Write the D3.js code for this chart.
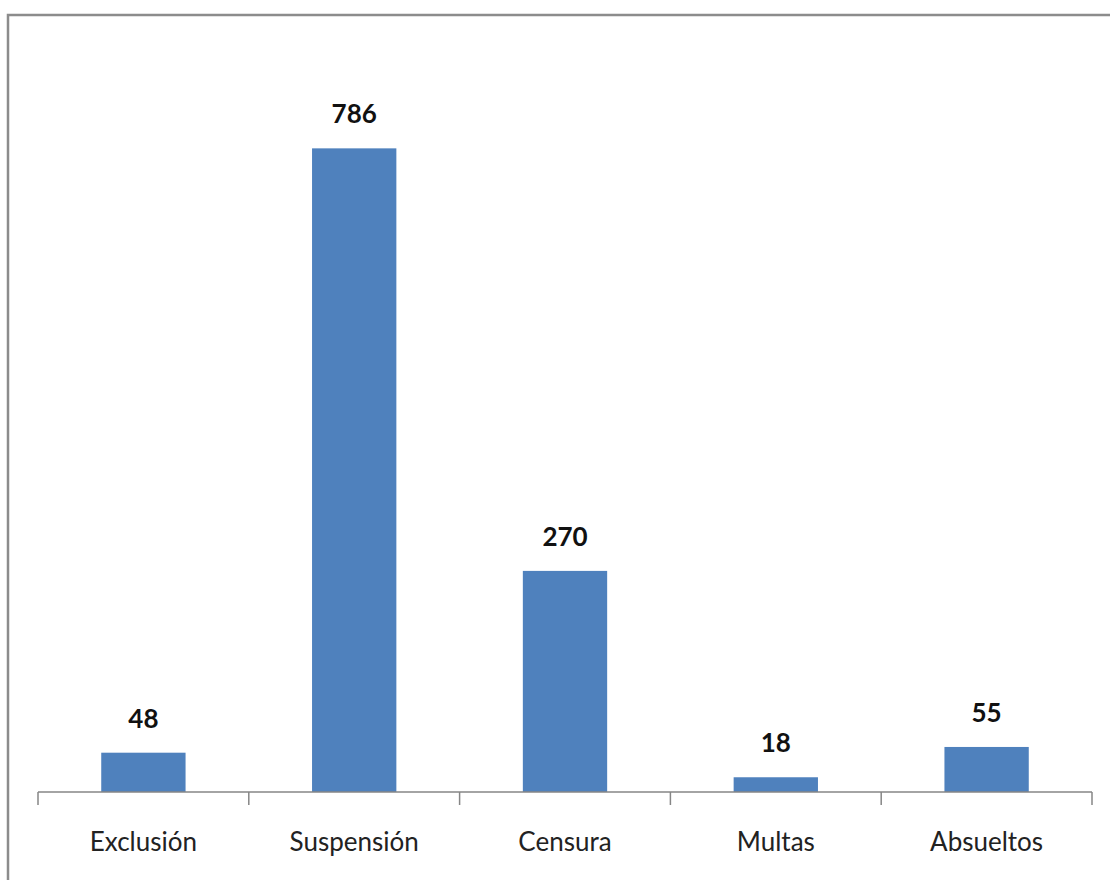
<!DOCTYPE html>
<html>
<head>
<meta charset="utf-8">
<script src="https://cdn.jsdelivr.net/npm/d3@7"></script>
<style>
  html, body { margin: 0; padding: 0; background: #fff; }
  svg { display: block; }
  .cat { font-family: Lato, sans-serif; font-size: 26px; fill: #222; }
  .val { font-family: Lato, sans-serif; font-size: 26px; font-weight: bold; fill: #111; }
</style>
</head>
<body>
<div id="chart"></div>
<script>
// data
const categories = ['Exclusión', 'Suspensión', 'Censura', 'Multas', 'Absueltos'];
const values = [48, 786, 270, 18, 55];

const W = 1110;
const H = 880;
const AXIS_Y = 792;
const PLOT_TOP = 55;
const LEFT = 38;
const RIGHT = 1092;

const $svg = d3.select('#chart').append('svg')
  .attr('width', W)
  .attr('height', H);

// frame round the chart (right and bottom edges fall outside the picture)
$svg.append('rect')
  .attr('x', 8).attr('y', 15)
  .attr('width', W + 20).attr('height', H + 20)
  .attr('fill', 'none')
  .attr('stroke', '#8c8c8c')
  .attr('stroke-width', 2.5);

// scales
const xScale = d3.scaleBand()
  .domain(categories)
  .range([LEFT, RIGHT])
  .paddingInner(0.6)
  .paddingOuter(0.3);

const yScale = d3.scaleLinear()
  .domain([0, 900])
  .range([AXIS_Y, PLOT_TOP]);

const data = categories.map((c, i) => ({ cat: c, value: values[i] }));

// bars
$svg.append('g').selectAll('rect')
  .data(data)
  .join('rect')
  .attr('x', d => xScale(d.cat))
  .attr('y', d => yScale(d.value))
  .attr('width', xScale.bandwidth())
  .attr('height', d => yScale(0) - yScale(d.value))
  .attr('fill', '#4f81bd');

// value labels
$svg.append('g').selectAll('text')
  .data(data)
  .join('text')
  .attr('class', 'val')
  .attr('x', d => xScale(d.cat) + xScale.bandwidth() / 2)
  .attr('y', d => yScale(d.value) - 25)
  .attr('text-anchor', 'middle')
  .text(d => d.value);

// x axis: labels from the band scale, ticks between categories
const $axis = $svg.append('g')
  .attr('transform', `translate(0, ${AXIS_Y})`)
  .call(d3.axisBottom(xScale).tickSize(0).tickPadding(40));
$axis.select('.domain').remove();
$axis.selectAll('text')
  .attr('class', 'cat')
  .attr('font-size', null)
  .attr('font-family', null)
  .attr('fill', null)
  .attr('dy', '0');

$axis.append('line')
  .attr('x1', LEFT).attr('x2', RIGHT)
  .attr('y1', 0).attr('y2', 0)
  .attr('stroke', '#868686')
  .attr('stroke-width', 1.5);

const step = xScale.step();
$axis.selectAll('.sep')
  .data(d3.range(categories.length + 1))
  .join('line')
  .attr('class', 'sep')
  .attr('x1', i => LEFT + i * step)
  .attr('x2', i => LEFT + i * step)
  .attr('y1', 0).attr('y2', 13)
  .attr('stroke', '#868686')
  .attr('stroke-width', 1.5);

$axis.selectAll('.tick text').attr('y', 59);
</script>
</body>
</html>
